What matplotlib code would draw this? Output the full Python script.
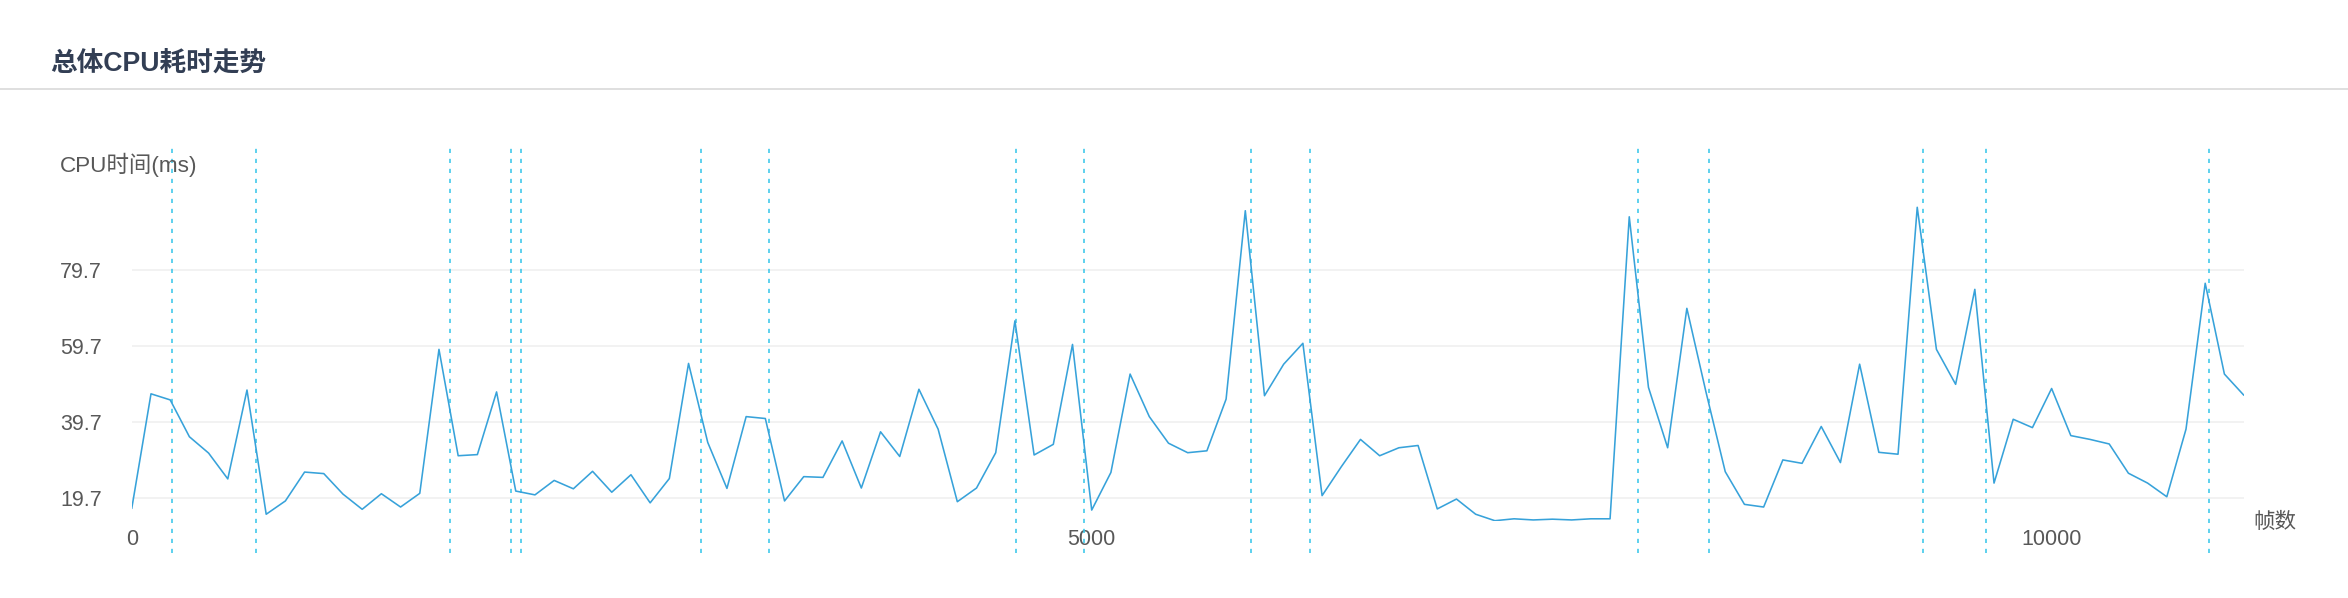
import matplotlib
matplotlib.use('Agg')
import matplotlib.pyplot as plt
from matplotlib.lines import Line2D

plt.rcParams['font.family'] = ['Liberation Sans', 'Noto Sans CJK SC', 'DejaVu Sans']
plt.rcParams['lines.scale_dashes'] = False

# CPU time per sample, one sample every 100 frames (0 .. 11000)
cpu_ms = [
    17.0, 47.1, 45.5, 35.8, 31.5, 24.7, 48.1, 15.4, 18.9, 26.5,
    26.1, 20.7, 16.7, 20.8, 17.3, 20.9, 58.8, 30.8, 31.1, 47.6,
    21.5, 20.5, 24.3, 22.1, 26.7, 21.2, 25.8, 18.4, 24.8, 55.1,
    34.3, 22.2, 41.1, 40.6, 18.9, 25.3, 25.1, 34.7, 22.3, 37.1,
    30.6, 48.3, 37.8, 18.7, 22.3, 31.6, 66.3, 31.0, 33.8, 60.1,
    16.5, 26.4, 52.3, 41.1, 34.1, 31.6, 32.1, 45.7, 95.3, 46.6,
    54.9, 60.4, 20.3, 27.9, 35.1, 30.8, 32.9, 33.5, 16.8, 19.4,
    15.4, 13.7, 14.2, 13.9, 14.1, 13.9, 14.2, 14.2, 93.7, 48.8,
    32.9, 69.6, 47.5, 26.6, 18.0, 17.3, 29.7, 28.8, 38.5, 29.0,
    54.9, 31.7, 31.2, 96.2, 58.8, 49.6, 74.6, 23.6, 40.4, 38.2,
    48.5, 36.1, 35.1, 33.9, 26.2, 23.6, 20.0, 37.8, 76.2, 52.3,
    46.8,
]
frame_step = 100
frames = [i * frame_step for i in range(len(cpu_ms))]

# frames marked with dashed lines
mark_frames = [211, 645, 1660, 1973, 2027, 2965, 3321, 4607, 4958,
               5832, 6135, 7843, 8213, 9329, 9660, 10822]

y_ticks = [19.7, 39.7, 59.7, 79.7]
x_ticks = [0, 5000, 10000]

W, H = 2348, 598
fig = plt.figure(figsize=(W / 100, H / 100), dpi=100)
fig.patch.set_facecolor('white')


def fx(px):
    return px / W


def fy(py):
    return 1 - py / H


# header
fig.text(fx(50), fy(64), '总体CPU耗时走势', fontsize=19.2, fontweight='bold',
         color='#323e54', va='center', ha='left')
fig.add_artist(Line2D([0, 1], [fy(89.3), fy(89.3)], color='#d6d6d6', lw=1.1))

# plot area
ax_l, ax_r = 131.8, 2243.6
ax_t, ax_b = 194.0, 520.7
ax = fig.add_axes([fx(ax_l), fy(ax_b), fx(ax_r - ax_l), (ax_b - ax_t) / H])
ax.set_xlim(0, 11000)
ax.set_ylim(13.7, 99.7)

for v in y_ticks:
    ax.axhline(v, color='#efefef', lw=1.1, zorder=1)

ax.plot(frames, cpu_ms, color='#37A2DA', lw=1.15, zorder=3)

ymin = (ax_b - 553) / (ax_b - ax_t)
ymax = (ax_b - 145) / (ax_b - ax_t)
for f in mark_frames:
    ax.axvline(f, ymin=ymin, ymax=ymax, color='#32C5E9', lw=1.1,
               linestyle=(0, (3.0, 4.2)), clip_on=False, zorder=2)

for s in ax.spines.values():
    s.set_visible(False)
ax.set_yticks(y_ticks)
ax.set_yticklabels([f'{v:.1f}' for v in y_ticks])
ax.set_xticks(x_ticks)
ax.set_xticklabels([str(v) for v in x_ticks])
ax.tick_params(axis='both', length=0, labelsize=15.5, labelcolor='#585858')
ax.tick_params(axis='y', pad=21.5)
ax.tick_params(axis='x', pad=13.5)
for lab in ax.get_xticklabels():
    lab.set_va('center')

# axis names
fig.text(fx(60), fy(165), 'CPU时间(ms)', fontsize=16.2, color='#585858',
         va='center', ha='left')
fig.text(fx(2253), fy(522), '帧数', fontsize=15.5, color='#585858',
         va='center', ha='left')

fig.savefig('out.png', dpi=100, facecolor='white')
